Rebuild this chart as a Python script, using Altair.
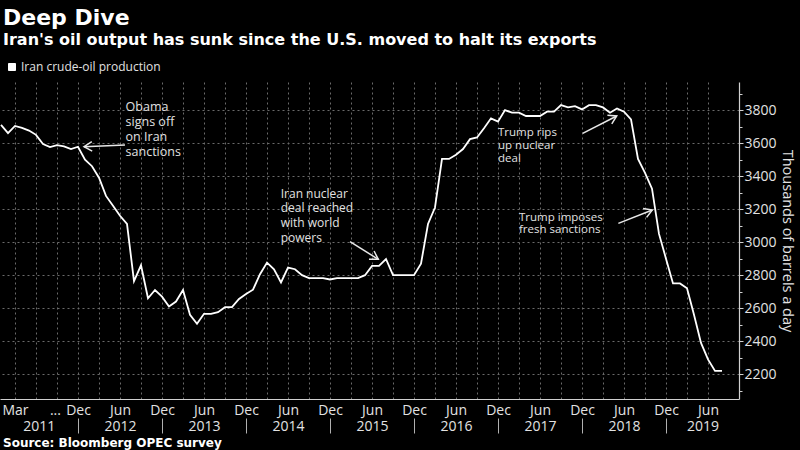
import math
import altair as alt
import pandas as pd

# ---------------- data ----------------
months = pd.period_range("2011-01", "2019-08", freq="M").strftime("%Y-%m").tolist()
production = [
    3710, 3660, 3704, 3692, 3676, 3650, 3594, 3576, 3588, 3580, 3564, 3578,  # 2011
    3500, 3460, 3390, 3280, 3220, 3160, 3110, 2764, 2860, 2660, 2710, 2670,  # 2012
    2610, 2640, 2710, 2560, 2506, 2566, 2566, 2576, 2606, 2606, 2656, 2686,  # 2013
    2712, 2806, 2876, 2836, 2756, 2846, 2836, 2800, 2782, 2782, 2782, 2774,  # 2014
    2782, 2782, 2782, 2782, 2800, 2856, 2856, 2898, 2800, 2800, 2800, 2800,  # 2015
    2870, 3110, 3210, 3504, 3504, 3530, 3564, 3624, 3634, 3690, 3750, 3730,  # 2016
    3800, 3784, 3784, 3764, 3764, 3764, 3790, 3790, 3830, 3816, 3824, 3804,  # 2017
    3830, 3830, 3816, 3784, 3810, 3790, 3744, 3504, 3420, 3324, 3050, 2900,  # 2018
    2750, 2750, 2720, 2560, 2390, 2290, 2220, 2220,                          # 2019
]
series_name = "Iran crude-oil production"

# axis ticks (x in month index, 0 = Jan 2011)
month_tick_pos = [2, 7.7, 11, 17, 23, 29, 35, 41, 47, 53, 59, 65, 71, 77, 83, 89, 95, 101]
month_tick_text = ["Mar", "...", "Dec", "Jun", "Dec", "Jun", "Dec", "Jun", "Dec", "Jun",
                   "Dec", "Jun", "Dec", "Jun", "Dec", "Jun", "Dec", "Jun"]
year_pos = [5.4, 17, 29, 41, 53, 65, 77, 89, 100.2]
year_text = ["2011", "2012", "2013", "2014", "2015", "2016", "2017", "2018", "2019"]
year_sep_pos = [11, 23, 35, 47, 59, 71, 83, 95]
grid_x_pos = list(range(2, 102, 3))
y_major = list(range(2200, 3801, 200))
y_minor = list(range(2100, 3901, 100))

# annotations (data coordinates)
ann_text = ["Obama\nsigns off\non Iran\nsanctions",
            "Iran nuclear\ndeal reached\nwith world\npowers",
            "Trump rips\nup nuclear\ndeal",
            "Trump imposes\nfresh sanctions"]
ann_x = [17.8, 39.96, 71.0, 74.0]
ann_y = [3856, 3323, 3700, 3185]
arrow_x0 = [17.71, 49.86, 83.1, 88.19]
arrow_y0 = [3588, 3003, 3659, 3114]
arrow_x1 = [11.86, 53.9, 87.96, 93.04]
arrow_y1 = [3578, 2896, 3764, 3195]

title_text = "Deep Dive"
subtitle_text = "Iran's oil output has sunk since the U.S. moved to halt its exports"
source_text = "Source: Bloomberg OPEC survey"
y_title = "Thousands of barrels a day"

# ---------------- layout / style ----------------
W, H = 739, 317
X_DOMAIN = [-1 / 7, 738 / 7]
Y_DOMAIN = [2050, 3970]
PX_X = W / (X_DOMAIN[1] - X_DOMAIN[0])
PX_Y = H / (Y_DOMAIN[1] - Y_DOMAIN[0])
ann_style = [dict(fontSize=12.5, lineHeight=15), dict(fontSize=12, lineHeight=14.6),
             dict(fontSize=11.5, lineHeight=13.3), dict(fontSize=11.5, lineHeight=12.7)]
LABEL_FONT = "Open Sans"
TITLE_FONT = "DejaVu Sans"
TXT = "#e2e2e2"
GRID = "#6a6a6a"


def expr_from(pos, text):
    parts = []
    for p, t in zip(pos, text):
        parts.append(f"datum.value == {p} ? '{t}'")
    return " : ".join(parts) + " : ''"


df = pd.DataFrame({"month": months, "production": production})
df["idx"] = range(len(df))
df["series"] = series_name

xs = alt.Scale(domain=X_DOMAIN, nice=False, zero=False)
ys = alt.Scale(domain=Y_DOMAIN, nice=False, zero=False)
base = alt.Chart(df)

line = base.mark_line(color="white", strokeWidth=1.8).encode(
    x=alt.X("idx:Q", scale=xs, axis=alt.Axis(
        orient="bottom", values=month_tick_pos, labelExpr=expr_from(month_tick_pos, month_tick_text),
        title=None, grid=False, ticks=False, tickSize=0, domain=True, domainColor="#d0d0d0",
        domainWidth=1.2, labelFont=LABEL_FONT, labelFontSize=14, labelColor=TXT,
        labelBaseline="alphabetic", labelPadding=15, labelOverlap=False, labelFlush=False)),
    y=alt.Y("production:Q", scale=ys, axis=alt.Axis(
        orient="right", values=y_major, format="d", grid=True, gridColor=GRID, gridDash=[2, 3],
        ticks=True, tickSize=4, tickColor="#d0d0d0", domain=True, domainColor="#d0d0d0",
        domainWidth=1.2, labelFont=LABEL_FONT, labelFontSize=14, labelColor=TXT, labelPadding=1,
        title=y_title, titleFont=LABEL_FONT, titleFontSize=14.5, titleFontWeight="normal",
        titleColor=TXT, titleAngle=90, titlePadding=3)),
    color=alt.Color("series:N", scale=alt.Scale(range=["#ffffff"]), legend=alt.Legend(
        title=None, orient="none", legendX=6, legendY=-21, symbolType="square", symbolSize=49,
        symbolFillColor="#ffffff", symbolStrokeColor="#ffffff", symbolStrokeWidth=1,
        labelFont=LABEL_FONT, labelFontSize=12, labelColor=TXT, labelOffset=3, padding=0)),
)

grid_layer = base.mark_point(opacity=0).encode(
    x=alt.X("idx:Q", scale=xs, axis=alt.Axis(
        orient="bottom", values=grid_x_pos, grid=True, gridColor=GRID, gridDash=[2, 3],
        labels=False, ticks=False, domain=False, title=None)),
)

year_layer = base.mark_point(opacity=0).encode(
    x=alt.X("idx:Q", scale=xs, axis=alt.Axis(
        orient="bottom", values=year_pos, labelExpr=expr_from(year_pos, year_text), grid=False,
        ticks=False, tickSize=0, domain=False, title=None, labelFont=LABEL_FONT, labelFontSize=14,
        labelColor=TXT, labelBaseline="alphabetic", labelPadding=31.5, labelOverlap=False,
        labelFlush=False)),
)

sep_layer = base.mark_point(opacity=0).encode(
    x=alt.X("idx:Q", scale=xs, axis=alt.Axis(
        orient="bottom", values=year_sep_pos, grid=False, labels=False, ticks=True, tickSize=15,
        tickColor="#b0b0b0", tickWidth=1, offset=19, domain=False, title=None)),
)

minor_layer = base.mark_point(opacity=0).encode(
    y=alt.Y("production:Q", scale=ys, axis=alt.Axis(
        orient="right", values=y_minor, grid=False, labels=False, ticks=True, tickSize=3,
        tickColor="#d0d0d0", domain=False, title=None)),
)

ann_layers = []
for i, t in enumerate(ann_text):
    d = pd.DataFrame({"x": [ann_x[i]], "y": [ann_y[i]], "t": [t]})
    ann_layers.append(alt.Chart(d).mark_text(
        align="left", baseline="top", font=LABEL_FONT, color=TXT, lineBreak="\n",
        fontSize=ann_style[i]["fontSize"], lineHeight=ann_style[i]["lineHeight"]).encode(
        x=alt.X("x:Q", scale=xs, axis=None), y=alt.Y("y:Q", scale=ys, axis=None), text="t:N"))

arr = pd.DataFrame({"x0": arrow_x0, "y0": arrow_y0, "x1": arrow_x1, "y1": arrow_y1})
arr["ang"] = [
    math.degrees(math.atan2(-(b1 - b0) * PX_Y, (a1 - a0) * PX_X)) % 360
    for a0, b0, a1, b1 in zip(arrow_x0, arrow_y0, arrow_x1, arrow_y1)
]
shafts = alt.Chart(arr).mark_rule(color="#e8e8e8", strokeWidth=1.5).encode(
    x=alt.X("x0:Q", scale=xs, axis=None), y=alt.Y("y0:Q", scale=ys, axis=None),
    x2="x1:Q", y2="y1:Q")
heads = alt.Chart(arr).mark_point(
    shape="M -1 -0.6 L 0 0 L -1 0.6", filled=False, size=256, color="#e8e8e8",
    strokeWidth=1.5, opacity=1).encode(
    x=alt.X("x1:Q", scale=xs, axis=None), y=alt.Y("y1:Q", scale=ys, axis=None),
    angle=alt.Angle("ang:Q", scale=None))


def text_layer(txt, y, size, weight, font=TITLE_FONT, color="white"):
    return alt.Chart(pd.DataFrame({"t": [txt]})).mark_text(
        align="left", baseline="alphabetic", font=font, fontSize=size, fontWeight=weight,
        color=color).encode(x=alt.value(3), y=alt.value(y), text="t:N")


title_l = text_layer(title_text, -57, 22, "bold")
subtitle_l = text_layer(subtitle_text, -37, 16, "bold")
source_l = text_layer(source_text, 364.7, 12, "bold")

chart = alt.layer(
    grid_layer, year_layer, sep_layer, minor_layer, line, shafts, heads, *ann_layers,
    title_l, subtitle_l, source_l,
).resolve_scale(x="independent", y="independent").properties(
    width=W, height=H,
    autosize=alt.AutoSizeParams(type="none"),
    padding={"left": 0, "top": 82, "right": 61, "bottom": 51},
).configure(background="black").configure_view(stroke=None)

chart.save("out.html", embed_options={"renderer": "svg", "actions": False})
